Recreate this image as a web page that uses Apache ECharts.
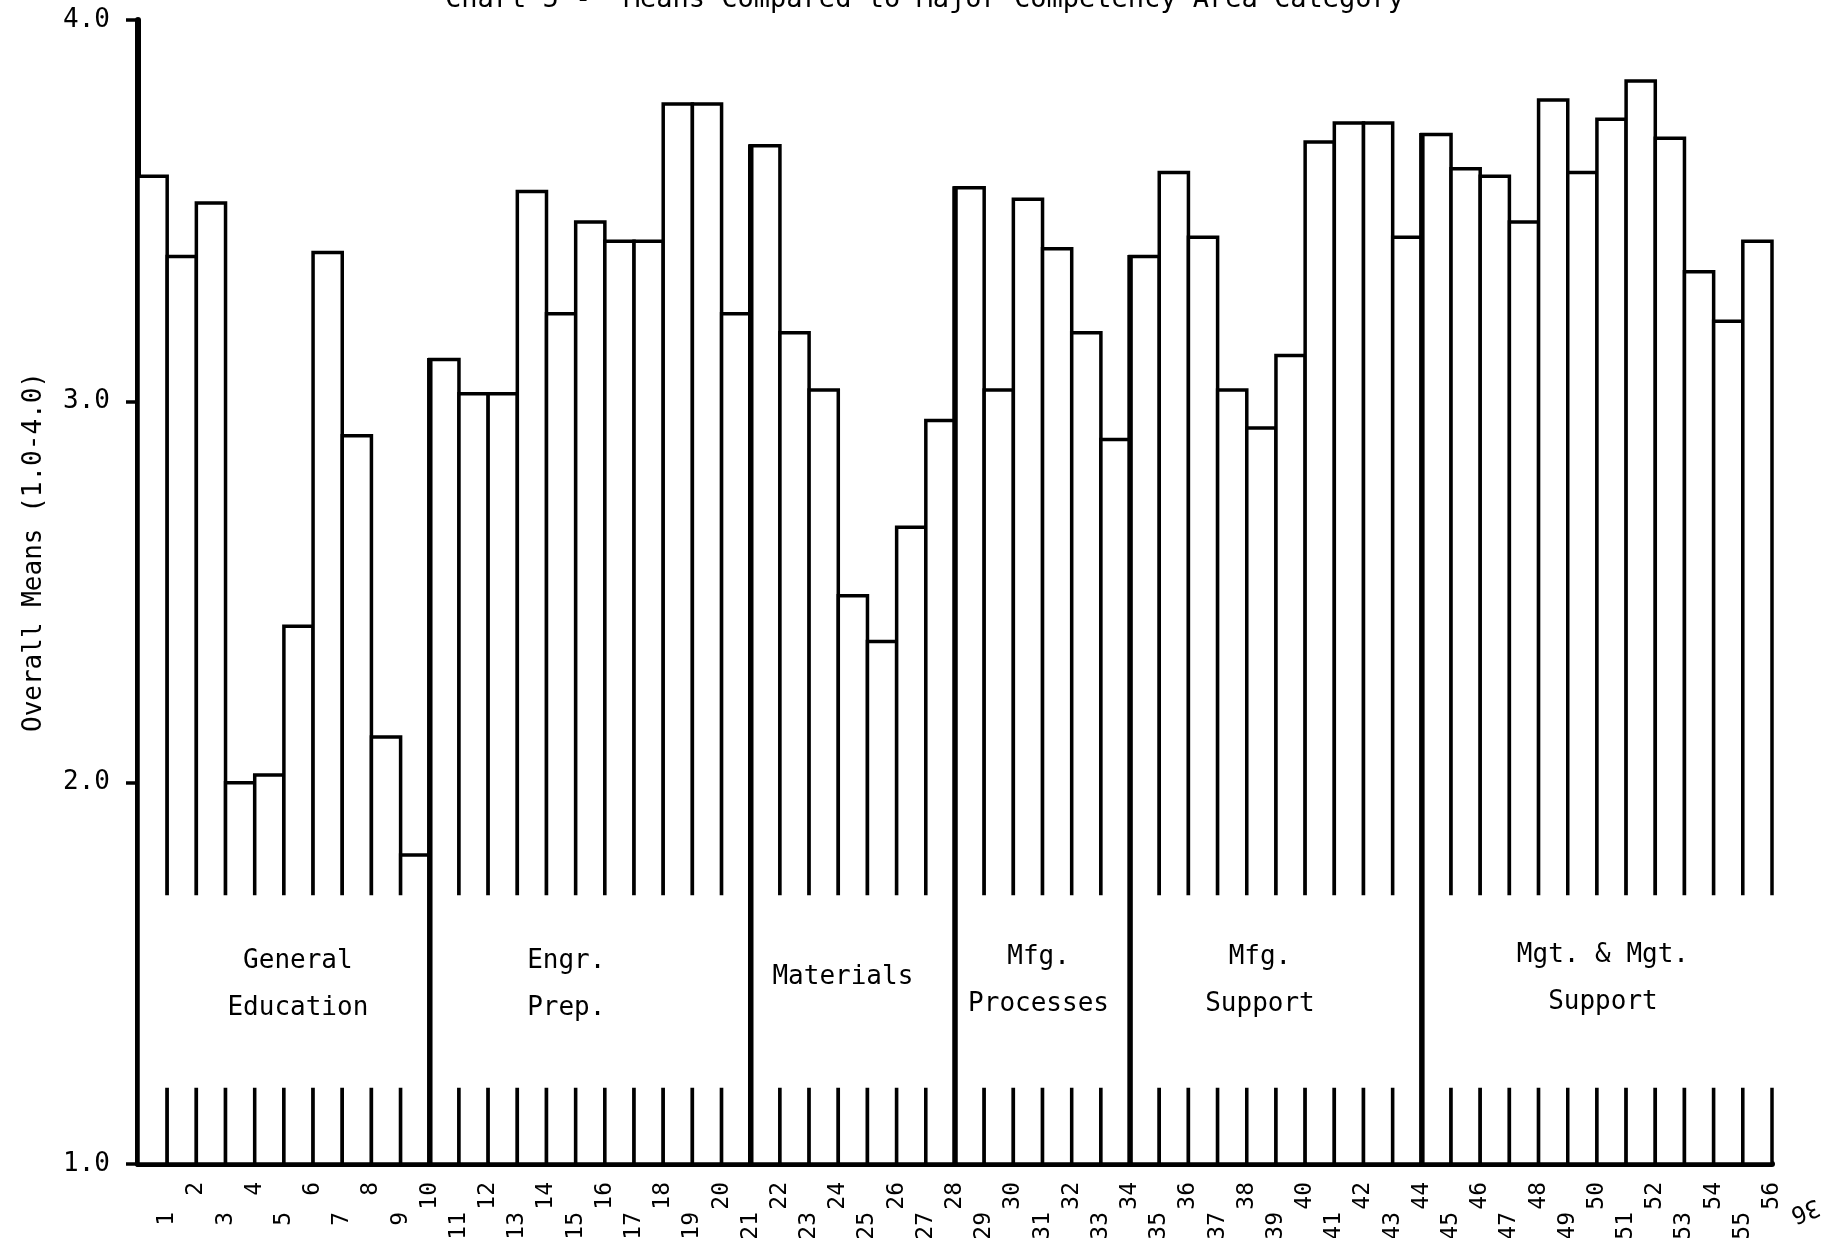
<!DOCTYPE html>
<html><head><meta charset="utf-8">
<script src="https://cdn.jsdelivr.net/npm/echarts@6/dist/echarts.min.js"></script>
<style>html,body{margin:0;padding:0;background:#fff}#c{width:1838px;height:1238px}</style>
</head><body><div id="c"></div>
<script>
// ---- data ----
const itemLabels = ['1','2','3','4','5','6','7','8','9','10','11','12','13','14','15','16','17','18','19','20',
  '21','22','23','24','25','26','27','28','29','30','31','32','33','34','35','36','37','38','39','40',
  '41','42','43','44','45','46','47','48','49','50','51','52','53','54','55','56'];
const means = [
  3.59, 3.38, 3.52, 2.00, 2.02, 2.41, 3.39, 2.91, 2.12, 1.81,
  3.11, 3.02, 3.02, 3.55, 3.23, 3.47, 3.42, 3.42, 3.78, 3.78, 3.23,
  3.67, 3.18, 3.03, 2.49, 2.37, 2.67, 2.95,
  3.56, 3.03, 3.53, 3.40, 3.18, 2.90,
  3.38, 3.60, 3.43, 3.03, 2.93, 3.12, 3.68, 3.73, 3.73, 3.43,
  3.70, 3.61, 3.59, 3.47, 3.79, 3.60, 3.74, 3.84, 3.69, 3.34, 3.21, 3.42
];
const groupNames = ['General\nEducation', 'Engr.\nPrep.', 'Materials', 'Mfg.\nProcesses', 'Mfg.\nSupport', 'Mgt. & Mgt.\nSupport'];
const groupSizes = [10, 11, 7, 6, 10, 12];
const yTickLabels = ['1.0', '2.0', '3.0', '4.0'];
const titleText = 'Chart 5 -  Means Compared to Major Competency Area Category';
const yAxisTitle = 'Overall Means (1.0-4.0)';
const pageNumber = '36';

// ---- layout / style ----
const FONT = '"DejaVu Sans Mono", "Liberation Mono", monospace';
const BAND_LO = 1.2, BAND_HI = 1.705, GROUP_LABEL_Y = 1.47;
const LABEL_DX = [14, -24, -10, -4, -16, 6];   // pixel nudges of the typed group captions
const LABEL_DY = [0, 0, -8, -4, -4, -6];

const barData = means.map((v, i) => [i, v]);
const groupData = [];
let start = 0;
groupSizes.forEach((n) => { groupData.push([start, start + n, means[start]]); start += n; });
const nItems = means.length;

const chart = echarts.init(document.getElementById('c'), null, {renderer: 'canvas'});

const xBase = {type: 'value', min: 0, max: nItems, interval: 1, position: 'bottom', offset: 0,
  splitLine: {show: false}, axisTick: {show: false}};

chart.setOption({
  animation: false,
  backgroundColor: '#fff',
  grid: {left: 138, right: 66, top: 20, bottom: 74, containLabel: false, outerBoundsMode: 'none'},
  xAxis: [
    Object.assign({}, xBase, {axisLine: {show: true, lineStyle: {color: '#000', width: 6}}, axisLabel: {show: false}}),
    Object.assign({}, xBase, {axisLine: {show: false}, axisLabel: {rotate: 90, margin: 18, color: '#000',
      fontFamily: FONT, fontSize: 23,
      formatter: v => (v >= 1 && v % 2 === 0) ? itemLabels[v - 1] : ''}}),
    Object.assign({}, xBase, {axisLine: {show: false}, axisLabel: {rotate: 90, margin: 48, color: '#000',
      fontFamily: FONT, fontSize: 23,
      formatter: v => (v >= 1 && v % 2 === 1) ? itemLabels[v - 1] : ''}})
  ],
  yAxis: {
    type: 'value', min: 1, max: 4, interval: 1,
    axisLine: {show: true, lineStyle: {color: '#000', width: 6}},
    axisTick: {show: true, length: 12, lineStyle: {color: '#000', width: 3.5}},
    splitLine: {show: false},
    axisLabel: {margin: 28, color: '#000', fontFamily: FONT, fontSize: 26,
      formatter: v => yTickLabels[Math.round(v) - 1]}
  },
  graphic: [
    {type: 'text', x: 445, y: 13, style: {text: titleText, font: '27px ' + FONT, fill: '#000', align: 'left', verticalAlign: 'bottom'}},
    {type: 'text', x: 34, y: 552, rotation: Math.PI / 2, style: {text: yAxisTitle, font: '26px ' + FONT, fill: '#000', align: 'center', verticalAlign: 'middle'}},
    {type: 'text', x: 1805, y: 1210, rotation: 3.5, style: {text: pageNumber, font: '24px ' + FONT, fill: '#000', align: 'center', verticalAlign: 'middle'}}
  ],
  series: [
    {
      type: 'custom', name: 'Overall Means', coordinateSystem: 'cartesian2d', xAxisIndex: 0, yAxisIndex: 0,
      data: barData, encode: {x: 0, y: 1}, clip: false,
      renderItem: (params, api) => {
        const i = api.value(0), v = api.value(1);
        const p0 = api.coord([i, v]);
        const p1 = api.coord([i + 1, 1]);
        return {type: 'rect', shape: {x: p0[0], y: p0[1], width: p1[0] - p0[0], height: p1[1] - p0[1]},
          style: {fill: '#fff', stroke: '#000', lineWidth: 3.5}};
      }
    },
    {
      type: 'custom', name: 'Groups', coordinateSystem: 'cartesian2d', xAxisIndex: 0, yAxisIndex: 0,
      data: groupData, encode: {x: [0, 1], y: 2}, clip: false,
      renderItem: (params, api) => {
        const k = params.dataIndex;
        const s = api.value(0), e = api.value(1), top = api.value(2);
        const a = api.coord([s, BAND_HI]);
        const b = api.coord([e, BAND_LO]);
        const padL = s === 0 ? 3.5 : 0;
        const padR = e === nItems ? 3 : 0;
        const ly = api.coord([s, GROUP_LABEL_Y])[1];
        const children = [
          {type: 'rect', shape: {x: a[0] + padL, y: a[1], width: b[0] - a[0] - padL + padR, height: b[1] - a[1]},
            style: {fill: '#fff', stroke: null}},
          {type: 'text', style: {text: groupNames[k], x: (a[0] + b[0]) / 2 + LABEL_DX[k], y: ly + LABEL_DY[k],
            align: 'center', verticalAlign: 'middle', font: '26px ' + FONT, lineHeight: 47, fill: '#000'}}
        ];
        if (s > 0) {
          const t = api.coord([s, top]);
          const bt = api.coord([s, 1]);
          children.push({type: 'line', shape: {x1: t[0], y1: t[1] - 1.5, x2: bt[0], y2: bt[1]},
            style: {stroke: '#000', lineWidth: 5.5}});
        }
        return {type: 'group', children: children};
      }
    }
  ]
});
</script>
</body></html>
